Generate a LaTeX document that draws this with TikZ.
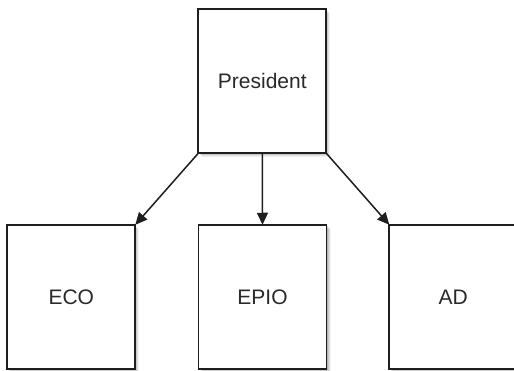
\documentclass[tikz,border=0pt]{standalone}
\usepackage{fontspec}
\setmainfont{Liberation Sans}
\usetikzlibrary{arrows.meta,shadows}
\definecolor{edgegray}{HTML}{1E1E1E}
\definecolor{textgray}{HTML}{2A2A2A}
\begin{document}
\begin{tikzpicture}[x=1pt,y=-1pt,
  softshadow/.style={
    general shadow={shadow xshift=4pt,shadow yshift=-4pt,fill=black,opacity=0.05},
    general shadow={shadow xshift=3pt,shadow yshift=-3pt,fill=black,opacity=0.07},
    general shadow={shadow xshift=2pt,shadow yshift=-2pt,fill=black,opacity=0.09},
    general shadow={shadow xshift=1pt,shadow yshift=-1pt,fill=black,opacity=0.11}},
  unitbox/.style={draw=edgegray,line width=1.7pt,fill=white,softshadow,
    minimum width=128pt,minimum height=144.5pt,inner sep=0pt,outer sep=0pt,
    font=\fontsize{21pt}{25pt}\selectfont,text=textgray,
    text height=15pt,text depth=0pt},
  link/.style={draw=edgegray,line width=1.5pt,
    -{Triangle[length=12pt,width=11pt]}}]
  \clip (0,0) rectangle (514,371);
  \fill[white] (0,0) rectangle (514,371);

  % top of the chart
  \node[unitbox] (pres) at (262.3,81) {President};

  % the three units below
  \node[unitbox] (eco)  at (71.3,297)  {ECO};
  \node[unitbox] (epio) at (262.5,297) {EPIO};
  \node[unitbox] (ad)   at (453.3,297) {AD};

  % reporting lines
  \draw[link] (pres.south west) -- (eco.north east);
  \draw[link] (pres.south) -- (epio.north);
  \draw[link] (pres.south east) -- (ad.north west);
\end{tikzpicture}
\end{document}
